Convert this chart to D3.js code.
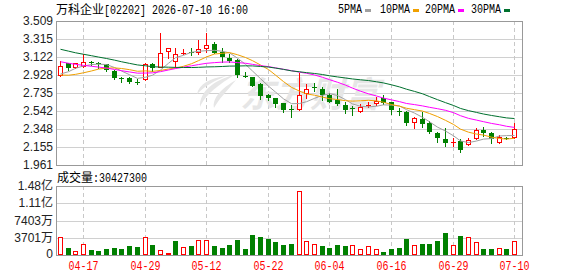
<!DOCTYPE html>
<html lang="zh-CN">
<head>
  <meta charset="UTF-8" />
  <title>万科企业 K线</title>
  <script src="https://d3js.org/d3.v7.min.js"></script>
  <style>
    body { margin: 0; background: #fff; }
    svg { display: block; }
    .mono { font-family: "Liberation Mono", "DejaVu Sans Mono", monospace; }
    .cjk { font-family: "Noto Sans CJK SC", sans-serif; }
    .axis { font-family: "Liberation Sans", Arial, "Noto Sans CJK SC", sans-serif; font-size: 12px; fill: #222; }
  </style>
</head>
<body>
<div id="chart"></div>
<script>
  const width = 578, height = 276;

  // 交易日 (2026)
  const dates = [
    "04-14","04-15","04-16","04-17","04-20","04-21","04-22","04-23","04-24","04-27","04-28","04-29","04-30",
    "05-04","05-05","05-06","05-07","05-08","05-11","05-12","05-13","05-14","05-15","05-18","05-19","05-20",
    "05-21","05-22","05-26","05-27","05-28","05-29",
    "06-01","06-02","06-03","06-04","06-05","06-08","06-09","06-10","06-11","06-12","06-15","06-16","06-17",
    "06-18","06-22","06-23","06-24","06-25","06-26","06-29","06-30",
    "07-02","07-03","07-06","07-07","07-08","07-09","07-10"
  ];
  const open = [
    2.928,3.054,3.018,3.028,3.063,3.057,3.044,2.975,2.891,2.896,
    2.858,2.882,3.044,3.018,3.187,3.079,3.166,3.173,3.181,3.222,
    3.260,3.176,3.111,3.090,2.923,2.904,2.834,2.713,2.678,2.624,
    2.558,2.563,2.732,2.802,2.778,2.713,2.660,2.611,2.574,2.541,
    2.603,2.624,2.678,2.633,2.545,2.534,2.420,2.455,2.409,2.308,
    2.240,2.205,2.219,2.184,2.254,2.337,2.302,2.211,2.251,2.265
  ];
  const high = [
    3.079,3.061,3.057,3.151,3.079,3.068,3.047,2.982,2.910,2.902,
    2.882,3.054,3.061,3.385,3.224,3.216,3.205,3.216,3.305,3.375,
    3.283,3.222,3.149,3.103,2.964,2.907,2.839,2.724,2.681,2.627,
    2.601,2.950,2.829,2.839,2.803,2.732,2.778,2.635,2.598,2.614,
    2.635,2.695,2.713,2.638,2.571,2.541,2.480,2.534,2.434,2.319,
    2.356,2.248,2.237,2.254,2.356,2.373,2.319,2.283,2.259,2.412
  ];
  const low = [
    2.923,2.982,3.007,3.018,3.036,3.004,2.972,2.882,2.850,2.839,
    2.829,2.875,2.975,3.014,3.111,3.018,3.154,3.143,3.149,3.179,
    3.165,3.071,3.063,2.902,2.904,2.805,2.674,2.660,2.588,2.534,
    2.480,2.552,2.678,2.753,2.660,2.635,2.606,2.517,2.498,2.534,
    2.588,2.606,2.614,2.506,2.498,2.391,2.356,2.373,2.302,2.211,
    2.168,2.168,2.098,2.179,2.240,2.276,2.194,2.194,2.240,2.254
  ];
  const close = [
    3.025,3.001,3.054,3.068,3.054,3.047,2.982,2.893,2.883,2.853,
    2.850,3.044,3.001,3.162,3.216,3.151,3.170,3.167,3.213,3.251,
    3.168,3.117,3.081,2.931,2.918,2.810,2.706,2.678,2.615,2.552,
    2.550,2.713,2.776,2.796,2.713,2.641,2.614,2.552,2.568,2.588,
    2.606,2.649,2.627,2.552,2.541,2.412,2.463,2.399,2.313,2.254,
    2.201,2.208,2.122,2.226,2.337,2.302,2.240,2.259,2.246,2.345
  ];
  const volume = [
    38600000,15000000,8000000,23000000,10700000,8600000,12900000,15000000,12900000,19300000,
    17200000,38600000,21500000,10000000,4300000,30000000,17200000,19300000,32000000,32000000,
    19300000,15000000,21500000,32000000,12900000,43000000,38600000,34300000,27900000,21500000,
    23600000,137000000,30000000,23600000,20000000,15700000,21500000,20000000,21500000,12900000,
    19300000,12200000,6400000,12900000,15700000,34300000,21500000,23600000,23600000,30000000,
    47200000,21500000,40800000,38600000,27900000,12900000,12900000,15000000,12900000,30427300
  ];
  // 区间之前的收盘价(用于计算均线)
  const priorClose = [
    3.60,3.58,3.55,3.52,3.48,3.45,3.42,3.40,3.38,3.35,
    3.32,3.30,3.28,3.25,3.22,3.20,3.18,3.15,3.13,3.11,
    3.02,2.96,2.90,2.86,2.845,
    2.876,2.869,2.948,2.977
  ];

  const priceTicks = [1.961, 2.155, 2.348, 2.542, 2.735, 2.928, 3.122, 3.315, 3.509];
  const volTicks = [0, 37015000, 74030000, 111045000, 148060000];
  const volTickLabels = ["0", "3701万", "7403万", "1.11亿", "1.48亿"];
  const dateTicks = ["04-17", "04-29", "05-12", "05-22", "06-04", "06-16", "06-29", "07-10"];
  const maPeriods = [5, 10, 20, 30];
  const maNames = ["5PMA", "10PMA", "20PMA", "30PMA"];
  const maColors = ["#a0a0a0", "#f0a000", "#ff00ff", "#00702e"];

  const RED = "#ff0000", GREEN = "#008000";
  const plotL = 56, plotR = 522, priceT = 21, priceB = 165, volT = 186, volB = 255;

  const svg = d3.select('#chart').append('svg')
    .attr('width', width).attr('height', height)
    .attr('viewBox', `0 0 ${width} ${height}`);

  const x = d3.scaleBand().domain(dates).range([plotL, 518]);
  const cx = d => Math.round(x(d) + x.bandwidth() / 2);
  const y = d3.scaleLinear().domain([priceTicks[0], priceTicks[priceTicks.length - 1]]).range([priceB, priceT]);
  const yv = d3.scaleLinear().domain([0, volTicks[volTicks.length - 1]]).range([volB, volT]);

  // 网格
  const grid = svg.append('g');
  priceTicks.forEach(t => {
    const yy = Math.round(y(t)) + 0.5;
    grid.append('line').attr('x1', plotL).attr('x2', plotR).attr('y1', yy).attr('y2', yy)
      .attr('stroke', '#d0d0d0');
  });
  volTicks.forEach(t => {
    const yy = Math.round(yv(t)) + 0.5;
    grid.append('line').attr('x1', plotL).attr('x2', plotR).attr('y1', yy).attr('y2', yy)
      .attr('stroke', '#d0d0d0');
  });
  dateTicks.forEach(d => {
    const xx = cx(d) + 0.5;
    [[priceT, priceB], [volT, volB]].forEach(([a, b]) => {
      grid.append('line').attr('x1', xx).attr('x2', xx).attr('y1', a).attr('y2', b)
        .attr('stroke', '#c8c8c8').attr('stroke-dasharray', '4,3');
    });
  });

  // 水印
  const wm = svg.append('g').attr('fill', '#e6e6e6');
  wm.append('path')
    .attr('d', 'M234,75 C214,80 199,92 200,107 C205,96 214,88 234,75 Z');
  wm.append('path')
    .attr('d', 'M236,80 C222,88 212,98 214,108 C219,99 226,92 236,80 Z');
  wm.append('path')
    .attr('d', 'M226,76 C210,78 199,84 197,94 C205,86 214,81 226,76 Z');
  wm.append('text').attr('class', 'cjk').attr('x', 240).attr('y', 107)
    .attr('font-size', 35).attr('font-weight', 'bold').attr('font-style', 'italic')
    .text('东方财富');

  // K线
  const candles = svg.append('g');
  dates.forEach((d, i) => {
    const c = cx(d);
    const up = close[i] > open[i];
    const col = up ? RED : GREEN;
    candles.append('line').attr('x1', c + 0.5).attr('x2', c + 0.5)
      .attr('y1', Math.round(y(high[i]))).attr('y2', Math.round(y(low[i])) + 1)
      .attr('stroke', col);
    const top = Math.round(y(Math.max(open[i], close[i])));
    const bot = Math.round(y(Math.min(open[i], close[i])));
    if (up && bot - top >= 2) {
      candles.append('rect').attr('x', c - 1.5).attr('y', top + 0.5)
        .attr('width', 4).attr('height', bot - top)
        .attr('fill', '#fff').attr('stroke', RED);
    } else {
      candles.append('rect').attr('x', c - 2).attr('y', top)
        .attr('width', 5).attr('height', Math.max(1, bot - top))
        .attr('fill', col);
    }
  });

  // 均线
  const allClose = priorClose.concat(close);
  const offset = priorClose.length;
  maPeriods.forEach((p, k) => {
    const vals = close.map((_, i) => d3.mean(allClose.slice(offset + i - p + 1, offset + i + 1)));
    svg.append('path').datum(vals)
      .attr('fill', 'none').attr('stroke', maColors[k]).attr('stroke-width', 1)
      .attr('d', d3.line().x((v, i) => cx(dates[i]) + 0.5).y(v => y(v)));
  });

  // 成交量
  const vols = svg.append('g');
  dates.forEach((d, i) => {
    const c = cx(d);
    const prev = i === 0 ? priorClose[priorClose.length - 1] : close[i - 1];
    const up = close[i] >= prev;
    const top = Math.round(yv(volume[i]));
    if (up) {
      vols.append('rect').attr('x', c - 1.5).attr('y', top + 0.5)
        .attr('width', 4).attr('height', Math.max(1, volB - top - 1))
        .attr('fill', '#fff').attr('stroke', RED);
    } else {
      vols.append('rect').attr('x', c - 2).attr('y', top)
        .attr('width', 5).attr('height', volB - top)
        .attr('fill', GREEN);
    }
  });

  // 边框
  [[priceT, priceB], [volT, volB]].forEach(([a, b]) => {
    svg.append('rect').attr('x', plotL + 0.5).attr('y', a + 0.5)
      .attr('width', plotR - plotL).attr('height', b - a)
      .attr('fill', 'none').attr('stroke', '#999');
  });

  // 坐标文字
  priceTicks.forEach(t => {
    svg.append('text').attr('class', 'axis').attr('x', 53).attr('y', y(t))
      .attr('text-anchor', 'end').attr('dominant-baseline', 'central')
      .text(t.toFixed(3));
  });
  volTicks.forEach((t, k) => {
    svg.append('text').attr('class', 'axis').attr('x', 53).attr('y', Math.min(yv(t), volB - 1))
      .attr('text-anchor', 'end').attr('dominant-baseline', 'central')
      .text(volTickLabels[k]);
  });
  dateTicks.forEach(d => {
    svg.append('text').attr('class', 'mono').attr('x', cx(d) + 0.5).attr('y', 270)
      .attr('text-anchor', 'middle').attr('font-size', 12).attr('fill', RED)
      .attr('textLength', d.length * 6).attr('lengthAdjust', 'spacingAndGlyphs')
      .text(d);
  });

  // 标题
  const monoText = (sx, sy, s, fill) => svg.append('text').attr('class', 'mono')
    .attr('x', sx).attr('y', sy).attr('font-size', 12).attr('fill', fill || '#000')
    .attr('textLength', s.length * 6).attr('lengthAdjust', 'spacingAndGlyphs').text(s);
  svg.append('text').attr('class', 'cjk').attr('x', 56).attr('y', 14)
    .attr('font-size', 12).attr('fill', '#000').text('万科企业');
  monoText(104, 14, '[02202] 2026-07-10 16:00');
  svg.append('text').attr('class', 'cjk').attr('x', 57).attr('y', 182)
    .attr('font-size', 12).attr('fill', '#000').text('成交量');
  monoText(93, 182, ':' + volume[volume.length - 1]);

  // 图例
  const legendX = [338, 380, 425, 471];
  maNames.forEach((n, k) => {
    monoText(legendX[k], 13, n);
    svg.append('rect').attr('x', legendX[k] + n.length * 6 + 3).attr('y', 9)
      .attr('width', 6).attr('height', 3).attr('fill', maColors[k]);
  });
</script>
</body>
</html>
